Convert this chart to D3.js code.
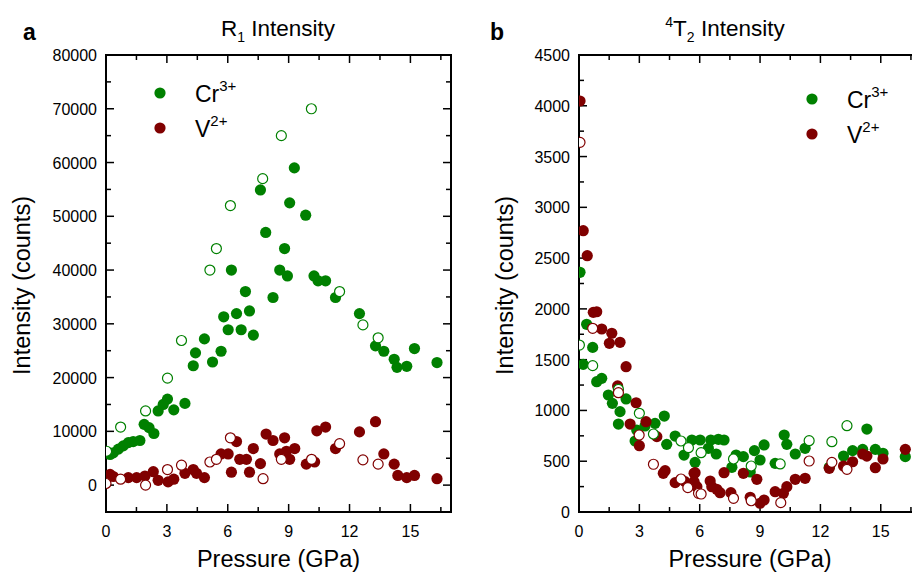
<!DOCTYPE html>
<html><head><meta charset="utf-8">
<script src="https://cdn.jsdelivr.net/npm/d3@7"></script>
<style>body{margin:0;background:#fff}svg{display:block}text{font-family:"Liberation Sans",Arial,sans-serif}</style>
</head><body><svg id="c" width="912" height="578"></svg>
<script>
// ---- data: [pressure GPa, intensity counts] ----
const crFilledA = [[0.20,5700],[0.36,6000],[0.61,6700],[0.85,7300],[1.10,7900],[1.34,8100],[1.67,8300],[1.88,11300],[2.12,10700],[2.36,9600],[2.57,13800],[2.82,15000],[3.03,16000],[3.34,14000],[3.89,15200],[4.30,22200],[4.41,24600],[4.85,27200],[5.25,22900],[5.67,24900],[5.80,31300],[6.02,28900],[6.18,40000],[6.43,31900],[6.66,28900],[6.87,36000],[7.07,32400],[7.26,27900],[7.61,54900],[7.87,47000],[8.23,34900],[8.56,40000],[8.80,44000],[8.94,38900],[9.05,52500],[9.28,59000],[9.84,50200],[10.25,38900],[10.45,38000],[10.82,38000],[11.31,34900],[12.49,31900],[13.28,25900],[13.69,24900],[14.20,23400],[14.34,21900],[14.82,22100],[15.20,25400],[16.31,22800]];
const crOpenA = [[0.03,6300],[0.72,10800],[1.95,13800],[3.03,19900],[3.72,26900],[5.12,40000],[5.44,44000],[6.13,52000],[7.72,57000],[8.64,65000],[10.12,70000],[11.51,36000],[12.66,29800],[13.41,27400]];
const vFilledA = [[0.20,2000],[0.36,1600],[1.10,1400],[1.51,1400],[1.92,1700],[2.33,2500],[2.57,900],[3.06,600],[3.34,1100],[3.89,2200],[4.30,2900],[4.46,2200],[4.85,1400],[5.67,5800],[6.02,5800],[6.18,2400],[6.43,8100],[6.59,4800],[6.92,4800],[7.07,2400],[7.26,6800],[7.61,4000],[7.89,9500],[8.23,8300],[8.56,5800],[8.80,8800],[8.89,6300],[9.05,4800],[9.30,6800],[9.87,3900],[10.28,4300],[10.39,10100],[10.82,10800],[11.31,6800],[12.49,9900],[13.28,11800],[13.69,5800],[14.20,3900],[14.38,1800],[14.82,1400],[15.20,1800],[16.31,1200]];
const vOpenA = [[0.0,300],[0.72,1100],[1.95,0],[3.03,2900],[3.72,3700],[5.12,4300],[5.44,4800],[6.13,8800],[7.74,1200],[8.64,4800],[10.13,4800],[11.51,7700],[12.66,4700],[13.41,3900]];

const crFilledB = [[0.05,2360],[0.38,1848],[0.68,1621],[0.21,1454],[1.13,1316],[0.88,1283],[1.46,1152],[1.66,1070],[2.34,1113],[2.04,988],[1.96,866],[2.87,807],[3.28,847],[3.78,873],[4.24,945],[2.79,699],[4.36,666],[4.78,748],[5.22,561],[5.61,709],[6.02,709],[5.77,489],[6.43,627],[6.55,709],[6.93,716],[7.21,709],[6.82,571],[7.81,561],[8.17,545],[7.60,440],[8.51,394],[8.72,604],[9.20,660],[9.00,512],[9.75,479],[10.20,758],[10.33,666],[10.75,571],[11.24,627],[12.44,440],[13.15,551],[13.60,604],[14.10,617],[14.31,817],[14.73,617],[15.11,578],[16.22,545]];
const crOpenB = [[0.02,1644],[0.68,1441],[1.96,1208],[3.00,972],[3.70,768],[5.07,699],[5.44,633],[6.07,584],[7.68,522],[8.56,453],[10.0,473],[11.44,702],[12.57,692],[13.32,850]];
const vFilledB = [[0.05,4047],[0.21,2770],[0.41,2524],[0.71,1966],[0.88,1972],[1.13,1802],[1.63,1760],[1.51,1661],[2.04,1671],[2.34,1431],[1.92,1241],[2.84,1076],[2.54,866],[3.33,889],[3.87,742],[3.00,653],[4.28,407],[4.19,381],[4.78,289],[5.27,299],[5.72,381],[5.72,299],[5.77,387],[5.86,249],[6.52,305],[6.60,249],[6.85,224],[7.01,190],[7.21,387],[7.55,190],[8.17,381],[8.84,322],[8.51,145],[9.00,86],[9.20,118],[9.75,200],[10.16,184],[10.33,249],[10.75,322],[11.24,332],[12.44,430],[13.15,453],[13.60,495],[14.10,571],[14.31,551],[15.11,522],[14.73,436],[16.22,617]];
const vOpenB = [[0.05,3640],[0.68,1809],[1.96,1175],[2.99,758],[3.70,470],[5.07,325],[5.41,240],[5.94,184],[6.07,177],[7.68,135],[8.56,111],[10.03,92],[11.44,502],[12.57,489],[13.32,420]];

const xTicks = [0,3,6,9,12,15];
const yTicksA = [0,10000,20000,30000,40000,50000,60000,70000,80000];
const yTicksB = [0,500,1000,1500,2000,2500,3000,3500,4000,4500];

const GREEN = "#008000", RED = "#800000";
const svg = d3.select("#c");

function panel(o){
  const {x0,x1,y0,y1,ydom,yTicks,yMinor,legend} = o;
  const x = d3.scaleLinear().domain([0,17]).range([x0,x1]);
  const y = d3.scaleLinear().domain(ydom).range([y1,y0]);
  const g = svg.append("g");
  const xMinor = d3.range(0,17.01,1.5);
  const yMin = d3.range(ydom[0]<0?ydom[0]:0, ydom[1]+1, yMinor);
  const tk = g.append("g").attr("stroke","#000").attr("stroke-width",1.5);
  xMinor.forEach(v=>{
    const L = (Math.abs(v%3)<1e-6)?8:5;
    tk.append("line").attr("x1",x(v)).attr("x2",x(v)).attr("y1",y1).attr("y2",y1-L);
    tk.append("line").attr("x1",x(v)).attr("x2",x(v)).attr("y1",y0).attr("y2",y0+L);
  });
  yMin.forEach(v=>{
    const L = yTicks.includes(v)?8:5;
    tk.append("line").attr("y1",y(v)).attr("y2",y(v)).attr("x1",x0).attr("x2",x0+L);
    tk.append("line").attr("y1",y(v)).attr("y2",y(v)).attr("x1",x1).attr("x2",x1-L);
  });
  g.append("rect").attr("x",x0).attr("y",y0).attr("width",x1-x0).attr("height",y1-y0)
    .attr("fill","none").attr("stroke","#000").attr("stroke-width",2);
  xTicks.forEach(v=>g.append("text").attr("x",x(v)).attr("y",y1+25).attr("text-anchor","middle")
    .attr("font-size",16).text(v));
  yTicks.forEach(v=>g.append("text").attr("x",x0-9).attr("y",y(v)+6).attr("text-anchor","end")
    .attr("font-size",16).text(v));
  const cl = "clip"+x0;
  svg.append("clipPath").attr("id",cl).append("rect").attr("x",x0).attr("y",y0).attr("width",x1-x0).attr("height",y1-y0);
  const pts = g.append("g").attr("clip-path",`url(#${cl})`);
  const draw=(data,col,open)=>pts.selectAll(null).data(data).enter().append("circle")
    .attr("cx",d=>x(d[0])).attr("cy",d=>y(d[1])).attr("r",open?5:5.6)
    .attr("fill",open?"#fff":col).attr("stroke",open?col:"none").attr("stroke-width",1.2);
  draw(o.crF,GREEN,false); draw(o.vF,RED,false); draw(o.crO,GREEN,true); draw(o.vO,RED,true);
  // legend
  [["Cr","3+",GREEN,legend[1]],["V","2+",RED,legend[1]+35]].forEach(([a,b,c,ly])=>{
    g.append("circle").attr("cx",legend[0]).attr("cy",ly).attr("r",5.6).attr("fill",c);
    const t=g.append("text").attr("x",legend[0]+35).attr("y",ly+9).attr("font-size",23);
    t.append("tspan").text(a);
    t.append("tspan").attr("font-size",15).attr("dy",-11).text(b);
  });
  // axis labels
  g.append("text").attr("transform",`translate(${o.ylx},${(y0+y1)/2+2}) rotate(-90)`).attr("text-anchor","middle")
    .attr("font-size",23.5).text("Intensity (counts)");
  g.append("text").attr("x",(x0+x1)/2).attr("y",567).attr("text-anchor","middle").attr("font-size",23.5).text("Pressure (GPa)");
  return {x,y};
}

panel({x0:106,x1:451,y0:55,y1:512,ydom:[-5000,80000],yTicks:yTicksA,yMinor:5000,legend:[160,93],ylx:30,
  crF:crFilledA,crO:crOpenA,vF:vFilledA,vO:vOpenA});
panel({x0:579,x1:921,y0:55,y1:512,ydom:[0,4500],yTicks:yTicksB,yMinor:250,legend:[812,99],ylx:513,
  crF:crFilledB,crO:crOpenB,vF:vFilledB,vO:vOpenB});

// panel letters and titles
svg.append("text").attr("x",23).attr("y",40).attr("font-size",23).attr("font-weight","bold").text("a");
svg.append("text").attr("x",490).attr("y",40).attr("font-size",23).attr("font-weight","bold").text("b");
const t1=svg.append("text").attr("x",278).attr("y",36).attr("text-anchor","middle").attr("font-size",22.5);
t1.append("tspan").text("R"); t1.append("tspan").attr("font-size",14).attr("dy",6).text("1");
t1.append("tspan").attr("dy",-6).text(" Intensity");
const t2=svg.append("text").attr("x",725).attr("y",36).attr("text-anchor","middle").attr("font-size",22.5);
t2.append("tspan").attr("font-size",14).attr("dy",-9).text("4");
t2.append("tspan").attr("dy",9).text("T"); t2.append("tspan").attr("font-size",14).attr("dy",6).text("2");
t2.append("tspan").attr("dy",-6).text(" Intensity");
</script></body></html>
